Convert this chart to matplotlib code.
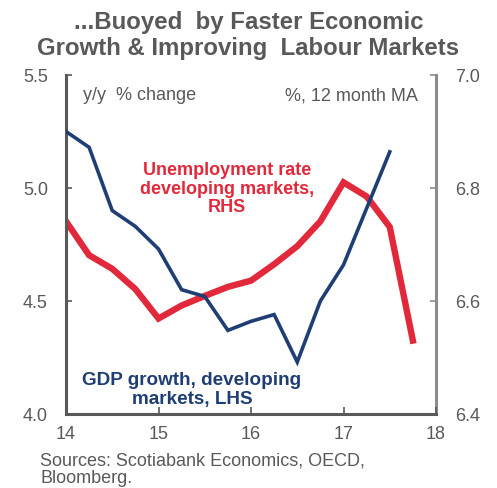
import matplotlib
matplotlib.use("Agg")
import matplotlib.pyplot as plt
import numpy as np

plt.rcParams['font.family'] = ['Liberation Sans', 'DejaVu Sans']

# Quarterly x positions (years since 2000)
gdp_x = [14.0, 14.25, 14.5, 14.75, 15.0, 15.25, 15.5, 15.75, 16.0, 16.25, 16.5, 16.75, 17.0, 17.25, 17.5]
gdp_growth = [5.25, 5.18, 4.90, 4.83, 4.73, 4.55, 4.52, 4.37, 4.41, 4.44, 4.23, 4.50, 4.66, 4.91, 5.16]

unemp_x = [14.0, 14.25, 14.5, 14.75, 15.0, 15.25, 15.5, 15.75, 16.0, 16.25, 16.5, 16.75, 17.0, 17.25, 17.5, 17.75]
unemp_rate = [6.741, 6.681, 6.657, 6.621, 6.569, 6.592, 6.609, 6.625, 6.636, 6.665, 6.697, 6.741, 6.810, 6.785, 6.731, 6.530]

x_ticks = [14, 15, 16, 17, 18]
left_ticks = [4.0, 4.5, 5.0, 5.5]
right_ticks = [6.4, 6.6, 6.8, 7.0]

GRAY = '#595959'
BLUE = '#1f3f74'
RED = '#e2293b'

fig = plt.figure(figsize=(4.97, 4.89), dpi=100)
ax = fig.add_axes([66/497, 1-415/489, (436-66)/497, (415-76)/489])
ax2 = ax.twinx()

ax.plot(gdp_x, gdp_growth, color=BLUE, lw=2.6, zorder=3, solid_joinstyle='miter')
ax2.plot(unemp_x, unemp_rate, color=RED, lw=4.6, zorder=2, solid_joinstyle='miter')

ax.set_xlim(14, 18)
ax.set_ylim(4.0, 5.5)
ax2.set_ylim(6.4, 7.0)
ax.set_xticks(x_ticks)
ax.set_xticklabels([str(t) for t in x_ticks])
ax.set_yticks(left_ticks)
ax.set_yticklabels([f"{t:.1f}" for t in left_ticks])
ax2.set_yticks(right_ticks)
ax2.set_yticklabels([f"{t:.1f}" for t in right_ticks])

for a in (ax, ax2):
    a.spines['top'].set_visible(False)
    a.patch.set_visible(False)
ax.set_zorder(ax2.get_zorder() + 1)

ax.spines['left'].set_color(GRAY)
ax.spines['left'].set_linewidth(2.2)
ax.spines['bottom'].set_color(GRAY)
ax.spines['bottom'].set_linewidth(2.2)
ax.spines['right'].set_visible(False)
ax2.spines['left'].set_visible(False)
ax2.spines['bottom'].set_visible(False)
ax2.spines['right'].set_color('#8c8c8c')
ax2.spines['right'].set_linewidth(2.2)

ax.tick_params(axis='x', direction='in', length=5, width=1.2, color=GRAY, labelsize=13, labelcolor=GRAY, pad=8)
ax.tick_params(axis='y', direction='in', length=4, width=1.2, color=GRAY, labelsize=13, labelcolor=GRAY, pad=13)
ax2.tick_params(axis='y', direction='in', length=4, width=1.2, color='#8c8c8c', labelsize=13, labelcolor=GRAY, pad=14)

fig.text(0.5, 1-22/489, "...Buoyed  by Faster Economic", ha='center', va='center',
         fontsize=17.3, fontweight='bold', color=GRAY)
fig.text(0.5, 1-49/489, "Growth & Improving  Labour Markets", ha='center', va='center',
         fontsize=17.3, fontweight='bold', color=GRAY)

fig.text(83/497, 1-96/489, "y/y  % change", ha='left', va='center', fontsize=13, color=GRAY)
fig.text(418/497, 1-96/489, "%, 12 month MA", ha='right', va='center', fontsize=13, color=GRAY)

fig.text(227/497, 1-189/489, "Unemployment rate\ndeveloping markets,\nRHS", ha='center', va='center',
         fontsize=13, fontweight='bold', color=RED, linespacing=1.12)
fig.text(192/497, 1-390/489, "GDP growth, developing\nmarkets, LHS", ha='center', va='center',
         fontsize=13.6, fontweight='bold', color=BLUE, linespacing=1.1)

fig.text(40/497, 1-487/489, "Sources: Scotiabank Economics, OECD,\nBloomberg.", ha='left', va='bottom',
         fontsize=13, color=GRAY, linespacing=1.05)

fig.savefig("out.png", dpi=100)
